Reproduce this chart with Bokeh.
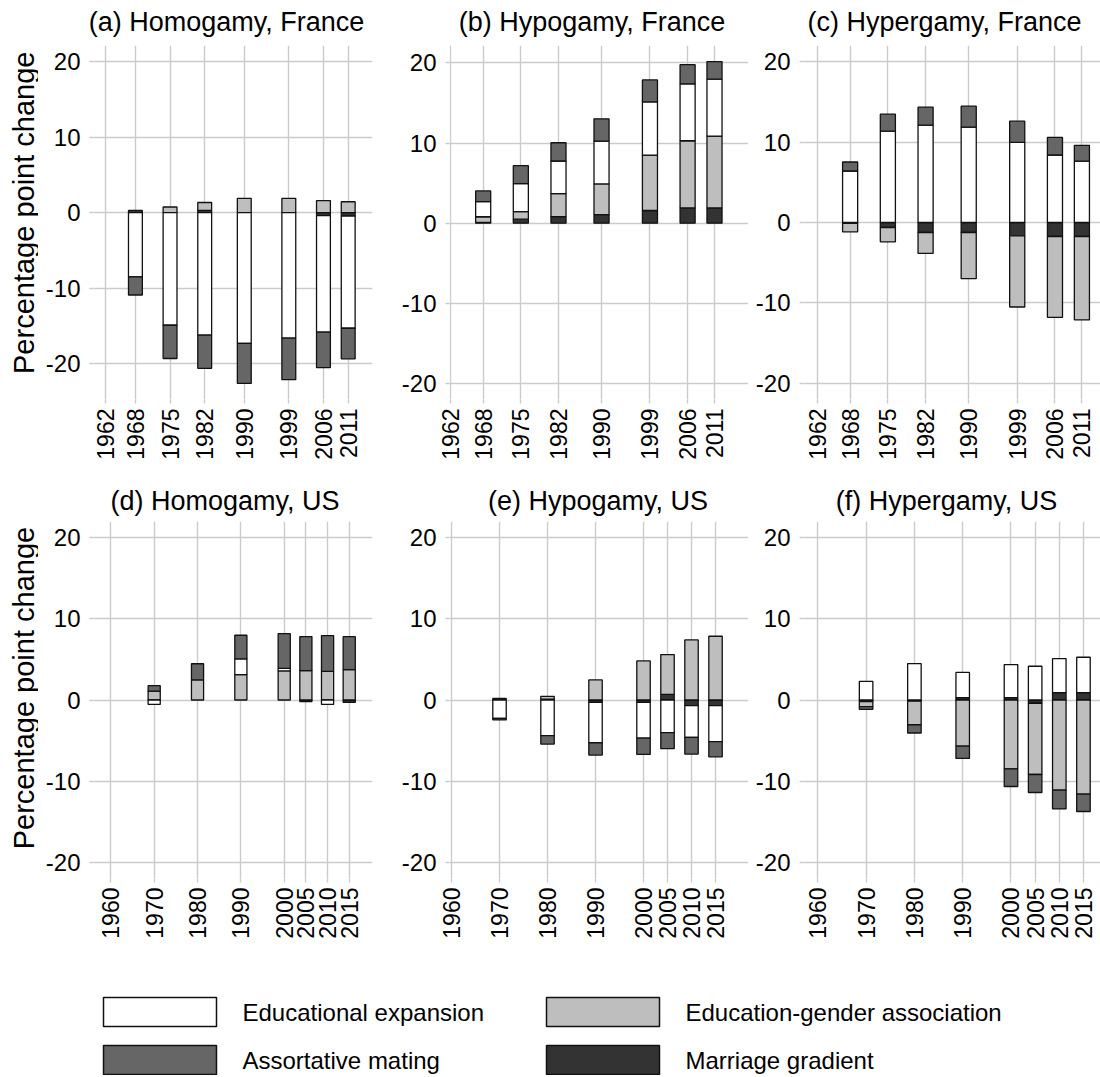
import numpy as np
from bokeh.plotting import figure
from bokeh.models import Range1d, FixedTicker
from bokeh.layouts import column, row
from bokeh.embed import file_html
from bokeh.resources import INLINE
from bokeh.core.properties import value

# ---------------- data ----------------
components = ["Educational expansion", "Education-gender association",
              "Assortative mating", "Marriage gradient"]
comp_colors = ["#ffffff", "#bebebe", "#666666", "#333333"]
# stacking order outward from zero
stack_order = ["Marriage gradient", "Education-gender association",
               "Educational expansion", "Assortative mating"]

years_fr = [1968, 1975, 1982, 1990, 1999, 2006, 2011]
ticks_fr = [1962, 1968, 1975, 1982, 1990, 1999, 2006, 2011]
years_us = [1970, 1980, 1990, 2000, 2005, 2010, 2015]
ticks_us = [1960, 1970, 1980, 1990, 2000, 2005, 2010, 2015]
y_ticks = [-20, -10, 0, 10, 20]
y_tick_labels = ["-20", "-10", "0", "10", "20"]

titles_top = ["(a) Homogamy, France", "(b) Hypogamy, France", "(c) Hypergamy, France"]
titles_bottom = ["(d) Homogamy, US", "(e) Hypogamy, US", "(f) Hypergamy, US"]
y_title = "Percentage point change"

# (a) Homogamy, France
homo_fr_ee = [-8.5, -14.9, -16.2, -17.3, -16.6, -15.4, -14.85]
homo_fr_ega = [0.0, 0.75, 1.05, 1.9, 1.9, 1.6, 1.45]
homo_fr_am = [-2.4, -4.4, -4.4, -5.3, -5.5, -4.7, -4.05]
homo_fr_mg = [0.3, 0.0, 0.3, 0.0, 0.0, -0.4, -0.45]
# (b) Hypogamy, France
hypo_fr_ee = [1.9, 3.49, 4.07, 5.35, 6.65, 7.1, 7.1]
hypo_fr_ega = [0.7, 0.95, 2.86, 3.82, 6.92, 8.38, 8.96]
hypo_fr_am = [1.33, 2.24, 2.28, 2.78, 2.73, 2.4, 2.2]
hypo_fr_mg = [0.1, 0.5, 0.83, 1.08, 1.58, 1.91, 1.91]
# (c) Hypergamy, France
hyper_fr_ee = [6.4, 11.36, 12.1, 11.86, 9.96, 8.39, 7.64]
hyper_fr_ega = [-1.06, -1.78, -2.6, -5.74, -8.85, -10.04, -10.37]
hyper_fr_am = [1.12, 2.1, 2.23, 2.6, 2.64, 2.19, 1.95]
hyper_fr_mg = [-0.1, -0.62, -1.24, -1.24, -1.65, -1.74, -1.74]
# (d) Homogamy, US
homo_us_ee = [-0.55, 0.0, 1.93, 0.33, 0.0, -0.55, 0.0]
homo_us_ega = [1.1, 2.47, 3.13, 3.58, 3.62, 3.54, 3.74]
homo_us_am = [0.66, 2.0, 2.92, 4.28, 4.2, 4.4, 4.07]
homo_us_mg = [0.0, 0.0, 0.0, 0.0, -0.2, 0.0, -0.3]
# (e) Hypogamy, US
hypo_us_ee = [-2.26, -4.4, -4.97, -4.39, -4.03, -3.9, -4.44]
hypo_us_ega = [0.0, 0.35, 2.47, 4.81, 4.9, 7.4, 7.86]
hypo_us_am = [-0.2, -1.03, -1.52, -2.02, -1.97, -2.07, -1.86]
hypo_us_mg = [0.2, 0.1, -0.3, -0.3, 0.7, -0.7, -0.7]
# (f) Hypergamy, US
hyper_us_ee = [2.3, 4.49, 3.1, 4.06, 4.16, 4.2, 4.37]
hyper_us_ega = [-0.62, -2.9, -5.68, -8.48, -8.78, -11.1, -11.6]
hyper_us_am = [-0.33, -1.02, -1.52, -2.18, -2.22, -2.32, -2.14]
hyper_us_mg = [-0.2, -0.15, 0.3, 0.3, -0.4, 0.9, 0.9]

GRID = "#cbcbcb"
FONT = "Liberation Sans"
BAR_W = 2.8
W = 1100


def make_panel(years, ticks, ee, ega, am, mg, x_range, frame_w, frame_h,
               border_left, border_bottom):
    vals = {"Educational expansion": ee, "Education-gender association": ega,
            "Assortative mating": am, "Marriage gradient": mg}
    yrs = np.array(years, dtype=float)
    pos = np.zeros(len(yrs))
    neg = np.zeros(len(yrs))
    segs = {}
    for c in stack_order:
        v = np.array(vals[c], dtype=float)
        bottom = np.where(v >= 0, pos, neg)
        top = bottom + v
        pos = np.where(v >= 0, top, pos)
        neg = np.where(v < 0, top, neg)
        segs[c] = (bottom, top, v)
    lo = min(-20.0, neg.min())
    hi = max(20.0, pos.max())
    pad = 0.05 * (hi - lo)
    p = figure(frame_width=frame_w, frame_height=frame_h,
               x_range=Range1d(*x_range), y_range=Range1d(lo - pad, hi + pad),
               output_backend="svg", toolbar_location=None,
               min_border_left=border_left, min_border_top=0,
               min_border_right=0, min_border_bottom=border_bottom)
    p.outline_line_color = None
    p.background_fill_color = "white"
    p.border_fill_color = "white"

    for c in stack_order:
        bottom, top, v = segs[c]
        m = v != 0
        p.vbar(x=yrs[m], width=BAR_W, bottom=bottom[m], top=top[m],
               fill_color=comp_colors[components.index(c)],
               line_color="#111111", line_width=1.3)

    p.xaxis.ticker = FixedTicker(ticks=ticks)
    p.yaxis.ticker = FixedTicker(ticks=y_ticks)
    p.yaxis.major_label_overrides = dict(zip(y_ticks, y_tick_labels))
    p.xgrid.ticker = FixedTicker(ticks=ticks)
    p.ygrid.ticker = FixedTicker(ticks=y_ticks)
    for g in (p.xgrid[0], p.ygrid[0]):
        g.grid_line_color = GRID
        g.grid_line_width = 1.4
        g.minor_grid_line_color = None
    for ax in (p.xaxis[0], p.yaxis[0]):
        ax.axis_line_color = None
        ax.major_tick_line_color = GRID
        ax.major_tick_line_width = 1.4
        ax.major_tick_out = 4
        ax.major_tick_in = 0
        ax.minor_tick_line_color = None
        ax.major_label_text_font = FONT
        ax.major_label_text_color = "black"
    p.xaxis.major_label_text_font_size = "23px"
    p.xaxis.major_label_orientation = np.pi / 2
    p.xaxis.major_label_standoff = 5
    p.yaxis.major_label_text_font_size = "24px"
    p.yaxis.major_label_standoff = 9
    return p


def strip(width, height):
    s = figure(width=width, height=height, x_range=Range1d(0, width),
               y_range=Range1d(0, height), output_backend="svg",
               toolbar_location=None, min_border=0)
    s.axis.visible = False
    s.grid.visible = False
    s.outline_line_color = None
    return s


# layout geometry (pixels)
YSTRIP = 38
R1_TITLE, R1_FRAME, R1_BOTTOM = 45, 354, 81
R2_TITLE, R2_FRAME, R2_BOTTOM = 41, 357, 77
LEG_H = 120
ROT_FIX = 33  # empirical correction of the rotated-text anchor
TITLE_SIZE = "27px"
YLAB_SIZE = "29px"

# ---- top row ----
t1 = strip(W, R1_TITLE)
for txt, cx in zip(titles_top, [226, 591.5, 944]):
    t1.text(x=[cx], y=[R1_TITLE - 21], text=[txt], text_font=value(FONT),
            text_font_size=TITLE_SIZE, text_align="center", text_baseline="middle",
            text_color="black")
y1 = strip(YSTRIP, R1_FRAME + R1_BOTTOM)
y1.text(x=[23], y=[R1_FRAME + R1_BOTTOM - (217.5 - R1_TITLE) - ROT_FIX], text=[y_title],
        angle=np.pi / 2, text_font=value(FONT), text_font_size=YLAB_SIZE,
        text_align="center", text_baseline="middle", text_color="black")

pa = make_panel(years_fr, ticks_fr, homo_fr_ee, homo_fr_ega, homo_fr_am, homo_fr_mg,
                (1959.53, 2015.91), 279, R1_FRAME, 93 - YSTRIP, R1_BOTTOM)
pa.min_border_right = 21
pb = make_panel(years_fr, ticks_fr, hypo_fr_ee, hypo_fr_ega, hypo_fr_am, hypo_fr_mg,
                (1961.74, 2017.32), 299, R1_FRAME, 56, R1_BOTTOM)
pc = make_panel(years_fr, ticks_fr, hyper_fr_ee, hyper_fr_ega, hyper_fr_am, hyper_fr_mg,
                (1959.35, 2014.45), 297, R1_FRAME, 55, R1_BOTTOM)

# ---- bottom row ----
t2 = strip(W, R2_TITLE)
for txt, cx in zip(titles_bottom, [224.5, 597.5, 946]):
    t2.text(x=[cx], y=[R2_TITLE - 20], text=[txt], text_font=value(FONT),
            text_font_size=TITLE_SIZE, text_align="center", text_baseline="middle",
            text_color="black")
row2_top = R1_TITLE + R1_FRAME + R1_BOTTOM + R2_TITLE
y2 = strip(YSTRIP, R2_FRAME + R2_BOTTOM)
y2.text(x=[23], y=[R2_FRAME + R2_BOTTOM - (690.5 - row2_top) - ROT_FIX], text=[y_title],
        angle=np.pi / 2, text_font=value(FONT), text_font_size=YLAB_SIZE,
        text_align="center", text_baseline="middle", text_color="black")

pd = make_panel(years_us, ticks_us, homo_us_ee, homo_us_ega, homo_us_am, homo_us_mg,
                (1956.0, 2020.37), 279, R2_FRAME, 93 - YSTRIP, R2_BOTTOM)
pd.min_border_right = 21
pe = make_panel(years_us, ticks_us, hypo_us_ee, hypo_us_ega, hypo_us_am, hypo_us_mg,
                (1959.58, 2021.87), 299, R2_FRAME, 56, R2_BOTTOM)
pf = make_panel(years_us, ticks_us, hyper_us_ee, hyper_us_ega, hyper_us_am, hyper_us_mg,
                (1957.04, 2018.53), 297, R2_FRAME, 55, R2_BOTTOM)

# ---------------- legend ----------------
LEG_TOP = row2_top + R2_FRAME + R2_BOTTOM
leg = figure(width=W, height=LEG_H, x_range=Range1d(0, W),
             y_range=Range1d(LEG_TOP + LEG_H, LEG_TOP),
             output_backend="svg", toolbar_location=None, min_border=0)
leg.axis.visible = False
leg.grid.visible = False
leg.outline_line_color = None
leg_cols_x = [103, 546]
leg_rows_y = [997, 1045]
box_w, box_h = 113, 29
for i, (name, col) in enumerate(zip(components, comp_colors)):
    cx = leg_cols_x[i % 2]
    cy = leg_rows_y[i // 2]
    leg.quad(left=[cx], right=[cx + box_w], top=[cy], bottom=[cy + box_h],
             fill_color=col, line_color="#111111", line_width=1.5)
    leg.text(x=[cx + 139], y=[cy + box_h / 2], text=[name],
             text_font=value(FONT), text_font_size="24px",
             text_baseline="middle", text_align="left", text_color="black")

layout = column(t1, row(y1, pa, pb, pc), t2, row(y2, pd, pe, pf), leg)
open("out.html", "w").write(file_html(layout, INLINE))
